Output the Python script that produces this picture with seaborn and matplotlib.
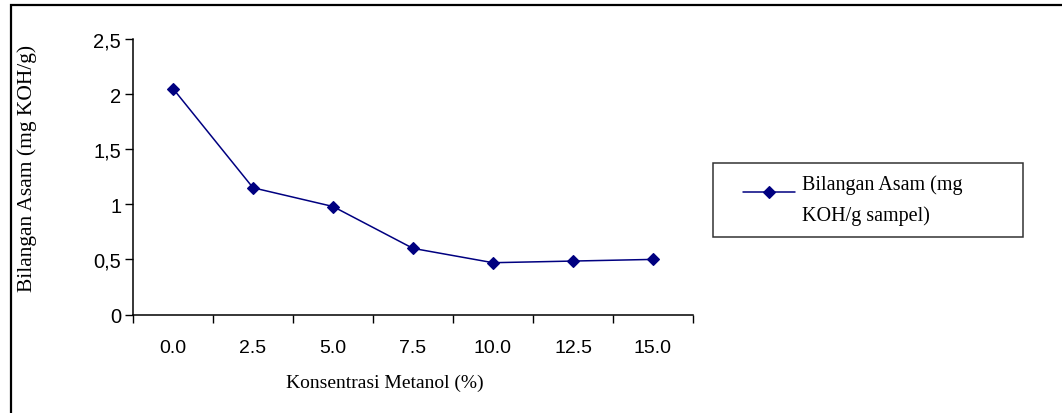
import numpy as np
import pandas as pd
import matplotlib
matplotlib.use("Agg")
import matplotlib.pyplot as plt
import seaborn as sns
from matplotlib.patches import Rectangle
from matplotlib.legend_handler import HandlerLine2D
from matplotlib.ticker import FixedLocator, FixedFormatter, NullFormatter, FuncFormatter

# Acid number of the product at each methanol concentration
concentrations = ["0.0", "2.5", "5.0", "7.5", "10.0", "12.5", "15.0"]
acid_values = [2.05, 1.15, 0.98, 0.60, 0.47, 0.485, 0.50]
y_ticks = [0, 0.5, 1.0, 1.5, 2.0, 2.5]
series_label = "Bilangan Asam (mg\nKOH/g sampel)"
x_title = "Konsentrasi Metanol (%)"
y_title = "Bilangan Asam (mg KOH/g)"

NAVY = "#000080"
W, H = 1062, 414

sns.set_theme(style="white")
plt.rcParams["font.family"] = ["Liberation Sans", "DejaVu Sans"]
serif = ["Liberation Serif", "DejaVu Serif"]

fig = plt.figure(figsize=(W / 100, H / 100), dpi=100)
fig.patch.set_facecolor("white")
ax = fig.add_axes([133 / W, 98.5 / H, 560 / W, 275.5 / H])
ax.set_facecolor("white")

df = pd.DataFrame({"conc": concentrations, "acid": acid_values})
sns.pointplot(
    data=df, x="conc", y="acid", order=concentrations,
    color=NAVY, markers="D", linestyles="-", errorbar=None,
    markersize=6.5, linewidth=1.1, label=series_label, ax=ax,
)

# Category axis: ticks on the boundaries, labels in the middle of each slot
n = len(concentrations)
ax.set_xlim(-0.5, n - 0.5)
ax.xaxis.set_major_locator(FixedLocator(np.arange(n + 1) - 0.5))
ax.xaxis.set_major_formatter(NullFormatter())
ax.xaxis.set_minor_locator(FixedLocator(np.arange(n)))
ax.xaxis.set_minor_formatter(FixedFormatter(concentrations))
ax.tick_params(axis="x", which="major", bottom=True, length=5.5, width=1.0,
               color="black", direction="out")
ax.tick_params(axis="x", which="minor", bottom=True, length=0, pad=17.5,
               labelsize=14, labelcolor="black")

ax.set_ylim(0, 2.5)
ax.yaxis.set_major_locator(FixedLocator(y_ticks))
ax.yaxis.set_major_formatter(FuncFormatter(lambda v, _: f"{v:g}".replace(".", ",")))
ax.tick_params(axis="y", left=True, length=5.5, width=1.0, color="black",
               direction="out", pad=3, labelsize=14.5, labelcolor="black")

ax.grid(False)
for side in ("top", "right"):
    ax.spines[side].set_visible(False)
for side in ("left", "bottom"):
    ax.spines[side].set_color("black")
    ax.spines[side].set_linewidth(1.1)

ax.set_xlabel(x_title, fontsize=14, family=serif, color="black")
ax.set_ylabel(y_title, fontsize=15.5, family=serif, color="black")
ax.xaxis.set_label_coords((385 - 133) / 560, -0.216)
ax.yaxis.set_label_coords(-0.172, 0.532)


class FirstLineHandler(HandlerLine2D):
    """Short line key drawn level with the first line of a two-line label."""

    def __init__(self, length, dy, **kw):
        super().__init__(**kw)
        self.length, self.dy = length, dy

    def get_xdata(self, legend, xdescent, ydescent, width, height, fontsize):
        x1 = -xdescent + width
        x0 = x1 - self.length
        return [x0, x1], [0.5 * (x0 + x1)]

    def create_artists(self, legend, orig_handle, xdescent, ydescent,
                       width, height, fontsize, trans):
        arts = super().create_artists(legend, orig_handle, xdescent, ydescent,
                                      width, height, fontsize, trans)
        for a in arts:
            a.set_ydata(np.asarray(a.get_ydata(), dtype=float) + self.dy)
        return arts


handles, labels = ax.get_legend_handles_labels()
fs = 14.5
leg = ax.legend(
    handles, labels,
    handler_map={type(handles[0]): FirstLineHandler(length=52 * 0.72, dy=6.0)},
    loc="center left", mode="expand",
    bbox_to_anchor=(713 / W, 1 - 237 / H, (1023 - 713) / W, 72 / H),
    bbox_transform=fig.transFigure,
    prop={"family": serif, "size": fs},
    frameon=True, fancybox=False, shadow=False, borderpad=0.58,
    handlelength=(70 * 0.72) / fs, handletextpad=(7 * 0.72) / fs,
    borderaxespad=0,
)
leg.get_frame().set_edgecolor("black")
leg.get_frame().set_linewidth(1.1)
for t in leg.get_texts():
    t.set_linespacing(1.75)
    t.set_color("black")

# Outer chart border
fig.add_artist(Rectangle((10.5 / W, -0.05), 1.2, 1.05 - 5.5 / H,
                         transform=fig.transFigure, fill=False,
                         edgecolor="black", linewidth=1.6))

fig.savefig("out.png", dpi=100)
